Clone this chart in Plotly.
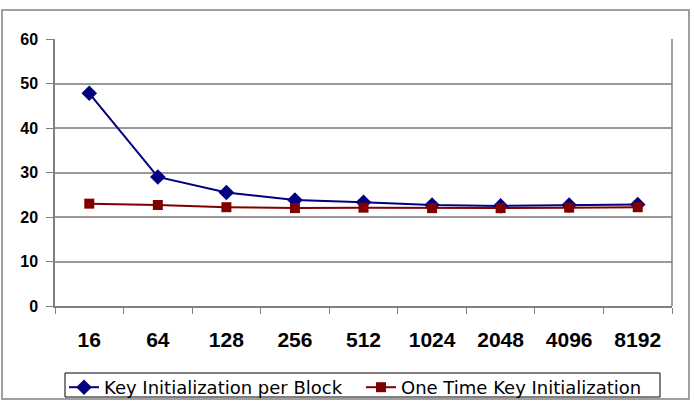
import plotly.graph_objects as go

categories = ["16", "64", "128", "256", "512", "1024", "2048", "4096", "8192"]
per_block = [47.8, 29.0, 25.5, 23.8, 23.3, 22.7, 22.5, 22.7, 22.8]
one_time = [23.0, 22.7, 22.2, 22.0, 22.1, 22.0, 22.0, 22.1, 22.2]
y_ticks = [0, 10, 20, 30, 40, 50, 60]

W, H = 694, 401
L, R, T, B = 55, 672, 39, 306
pw, ph = R - L, B - T

def px(x):
    return (x - L) / pw

def py(y):
    return (B - y) / ph

FONT = "Liberation Sans, Arial, sans-serif"

fig = go.Figure()
fig.add_trace(go.Scatter(
    x=categories, y=per_block, mode="lines+markers", name="Key Initialization per Block",
    line=dict(color="#000080", width=2),
    marker=dict(symbol="diamond", size=12, color="#000080"),
))
fig.add_trace(go.Scatter(
    x=categories, y=one_time, mode="lines+markers", name="One Time Key Initialization",
    line=dict(color="#800000", width=2),
    marker=dict(symbol="square", size=10, color="#800000"),
))

fig.update_layout(
    width=W, height=H,
    margin=dict(l=L, r=W - R, t=T, b=H - B, autoexpand=False),
    paper_bgcolor="white", plot_bgcolor="white",
    font=dict(family=FONT, color="#000000"),
    showlegend=True,
    legend=dict(
        orientation="h", xref="container", yref="container",
        x=64 / W, y=1 - 369 / H, xanchor="left", yanchor="top",
        bgcolor="rgba(0,0,0,0)", borderwidth=0,
        font=dict(size=18, family="DejaVu Sans, sans-serif"),
        tracegroupgap=0, itemwidth=30, entrywidth=252,
    ),
    shapes=[
        dict(type="rect", xref="paper", yref="paper",
             x0=px(2), x1=px(689), y0=py(10), y1=py(399),
             line=dict(color="#808080", width=1.5), layer="below"),
        dict(type="rect", xref="paper", yref="paper",
             x0=px(65), x1=px(660), y0=py(373), y1=py(397),
             line=dict(color="#000000", width=1), layer="below"),
    ],
)
fig.update_xaxes(
    type="category", categoryorder="array", categoryarray=categories,
    showline=True, linecolor="#808080", linewidth=1.5, mirror=False,
    ticks="outside", ticklen=6, tickcolor="#808080", tickson="boundaries",
    tickfont=dict(size=21, family=FONT, weight="bold"),
    ticklabelstandoff=14, showgrid=False, range=[-0.5, 8.5], automargin=False,
)
fig.update_yaxes(
    range=[0, 60], tickvals=y_ticks,
    showline=True, linecolor="#808080", linewidth=1.5,
    ticks="outside", ticklen=7, tickcolor="#808080",
    tickfont=dict(size=16, family=FONT, weight="bold"),
    ticklabelstandoff=5, automargin=False,
    showgrid=True, gridcolor="#9a9a9a", gridwidth=1.5, zeroline=False,
)
fig.add_shape(type="line", xref="paper", yref="paper", x0=1, x1=1, y0=0, y1=1,
              line=dict(color="#808080", width=1.5))

fig.write_html("out.html")
